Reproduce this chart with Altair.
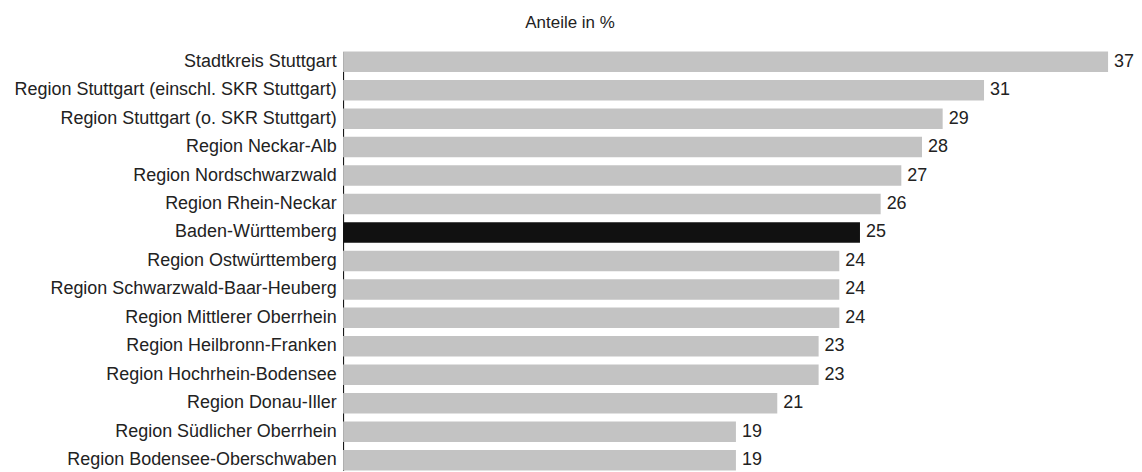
import altair as alt
import pandas as pd

regions = [
    "Stadtkreis Stuttgart",
    "Region Stuttgart (einschl. SKR Stuttgart)",
    "Region Stuttgart (o. SKR Stuttgart)",
    "Region Neckar-Alb",
    "Region Nordschwarzwald",
    "Region Rhein-Neckar",
    "Baden-Württemberg",
    "Region Ostwürttemberg",
    "Region Schwarzwald-Baar-Heuberg",
    "Region Mittlerer Oberrhein",
    "Region Heilbronn-Franken",
    "Region Hochrhein-Bodensee",
    "Region Donau-Iller",
    "Region Südlicher Oberrhein",
    "Region Bodensee-Oberschwaben",
]
values = [37, 31, 29, 28, 27, 26, 25, 24, 24, 24, 23, 23, 21, 19, 19]
highlight = ["Baden-Württemberg"]

df = pd.DataFrame({"region": regions, "value": values})
df["hl"] = df["region"].isin(highlight).map({True: "ja", False: "nein"})

FONT = "Liberation Sans"

y = alt.Y("region:N", sort=regions, title=None,
          scale=alt.Scale(paddingInner=0.28, paddingOuter=0),
          axis=alt.Axis(domain=True, domainColor="#000000", domainWidth=1,
                        ticks=False, grid=False, labelFont=FONT, labelFontSize=18,
                        labelColor="#222222", labelPadding=7, labelLimit=400))
x = alt.X("value:Q", title=None, scale=alt.Scale(domain=[0, 37], nice=False, zero=True),
          axis=None)

bars = alt.Chart(df).mark_bar().encode(
    x=x, y=y,
    color=alt.Color("hl:N", scale=alt.Scale(domain=["ja", "nein"], range=["#111111", "#c3c3c3"]),
                    legend=None),
)
labels = alt.Chart(df).mark_text(align="left", baseline="middle", dx=6, font=FONT,
                                 fontSize=18, color="#222222").encode(
    x=x, y=y, text=alt.Text("value:Q"))

chart = (bars + labels).properties(
    width=767, height=420,
    autosize=alt.AutoSizeParams(type="none"),
    padding={"left": 336, "top": 43, "right": 26, "bottom": 0},
    title=alt.TitleParams("Anteile in %", anchor="middle", dx=-156, font=FONT,
                          fontSize=17, fontWeight="normal", color="#222222", offset=20),
).configure_view(stroke=None)

chart.save("out.html", embed_options={"renderer": "svg", "actions": False})
